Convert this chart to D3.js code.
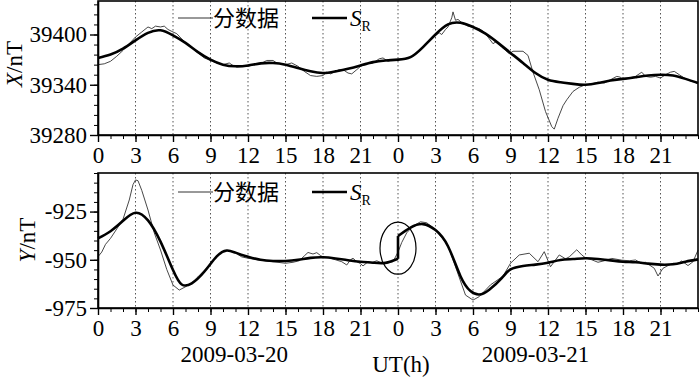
<!DOCTYPE html>
<html>
<head>
<meta charset="utf-8">
<script src="https://cdn.jsdelivr.net/npm/d3@7"></script>
<style>
  body { margin: 0; background: #fff; }
  svg { display: block; }
  svg text { font-family: "Liberation Serif", "Times New Roman", serif; }
  svg text.cjk { font-family: "Noto Sans CJK SC", sans-serif; }
</style>
</head>
<body>
<div id="chart"></div>
<script>
// hours since 2009-03-20 00:00 UT, values in nT

// X component, minute data (thin)
const xMinute = [[0,39364],[0.5,39365],[1,39368],[1.5,39374],[2,39381],[2.5,39389],[3,39397],[3.5,39403],[4,39409],[4.3,39407],[4.6,39410],[5,39409],[5.3,39410],[5.6,39406],[6,39403],[6.3,39401],[7,39390],[8,39378],[8.5,39372],[9,39369],[9.5,39366],[10,39364],[10.5,39366],[10.8,39363],[11.5,39362],[12,39362],[12.5,39364],[13,39365],[13.5,39369],[14,39369],[14.3,39366],[15,39364],[15.5,39366],[16,39362],[16.5,39356],[17,39351],[17.5,39350],[18,39351],[18.3,39355],[18.6,39353],[19,39356],[19.3,39358],[19.7,39357],[20,39354],[20.3,39353],[20.7,39358],[21,39362],[21.5,39365],[22,39366],[22.5,39371],[22.8,39372],[23.2,39368],[23.6,39370],[24,39370],[24.5,39371],[25,39373],[25.5,39378],[26,39385],[26.5,39393],[27,39399],[27.3,39402],[27.5,39400],[27.8,39406],[28,39409],[28.3,39420],[28.4,39427],[28.6,39417],[28.8,39418],[29.2,39413],[29.6,39410],[30,39409],[30.5,39407],[30.8,39404],[31.2,39397],[31.6,39389],[31.9,39392],[32.3,39385],[32.6,39381],[32.9,39377],[33.2,39380],[33.6,39380],[34,39380],[34.4,39375],[34.8,39355],[35.3,39334],[35.8,39308],[36.3,39290],[36.5,39287],[36.8,39300],[37.2,39315],[37.5,39322],[38,39332],[38.5,39337],[39,39340],[39.5,39341],[40,39343],[40.5,39342],[41,39346],[41.5,39350],[41.8,39349],[42,39346],[42.5,39348],[43,39350],[43.5,39355],[43.8,39350],[44.2,39349],[44.6,39350],[45,39348],[45.4,39352],[45.8,39355],[46.1,39356],[46.5,39352],[47,39347],[47.5,39344],[48,39342]];

// X component, S_R (thick)
const xSR = [[0,39372],[1,39376],[2,39383],[3,39393],[4,39402],[5,39405],[6,39399],[7,39390],[8,39379],[9,39370],[10,39364],[11,39362],[12,39363],[13,39365.5],[14,39366],[15,39364],[16,39360],[17,39356],[18,39354],[19,39356],[20,39359],[21,39363],[22,39367],[23,39369],[24,39370],[25,39373],[26,39385],[27,39400],[28,39412],[29,39414],[30,39409],[31,39401],[32,39390],[33,39378],[34,39366],[35,39354],[36,39346],[37,39343],[38,39341],[39,39340],[40,39342],[41,39345],[42,39347],[43,39349],[44,39351],[45,39352],[46,39351],[47,39347],[48,39342]];

// Y component, minute data (thin)
const yMinute = [[0,-948.4],[0.3,-946],[0.6,-942],[1,-938.9],[1.5,-934],[2,-929],[2.5,-919],[2.8,-911],[3,-908.6],[3.2,-909],[3.5,-914],[4,-924.2],[4.5,-936],[5,-944.9],[5.5,-955],[6,-963.1],[6.5,-965.7],[7,-964],[7.5,-962],[8,-958.8],[9,-952.3],[9.5,-948],[10,-945.5],[10.5,-945.2],[11,-946.5],[11.5,-948.5],[12,-949.2],[13,-950.2],[14,-951],[15,-951.8],[15.6,-951.3],[16.1,-950.5],[16.5,-948],[16.8,-946.2],[17.2,-947],[17.5,-946.3],[17.8,-947.8],[18,-948.5],[18.5,-949],[19,-950],[19.5,-951],[19.9,-952.7],[20.2,-950],[20.4,-949.2],[20.7,-951],[21,-952],[21.2,-953.2],[21.6,-951],[21.9,-951.5],[22.3,-950.5],[22.8,-952],[23.2,-951.5],[23.6,-951],[24,-946],[24.3,-941],[24.7,-936],[25.2,-932.5],[25.8,-930.3],[26.3,-930.8],[27,-934.6],[28,-942.5],[29,-961],[29.4,-968.3],[30,-970.9],[30.5,-969.1],[31.4,-963],[32.4,-958.5],[33,-951.8],[33.7,-947.5],[34.5,-946.6],[35.2,-951],[35.7,-945.8],[36.2,-953.6],[36.9,-947.5],[37.4,-949.5],[37.7,-948.5],[38.3,-944.8],[38.7,-947.5],[39,-949],[39.5,-950],[40,-951.3],[40.5,-950.5],[41.1,-949.3],[41.9,-950.2],[42.5,-950.5],[43,-950.1],[43.4,-951.5],[43.8,-951.3],[44.5,-954.4],[44.8,-958.4],[45.2,-954.4],[45.6,-953],[46,-951.8],[46.4,-952],[46.7,-950.6],[47.2,-953],[47.6,-951],[48,-945]];

// Y component, S_R (thick) - jumps at day boundary
const ySRDay1 = [[0,-938.9],[1,-935.2],[2,-929.8],[3,-925.6],[4,-929.6],[5,-940.6],[6,-955.3],[6.7,-962.8],[7.5,-962.2],[8.5,-956.2],[9.5,-948.2],[10.3,-945.2],[11,-946.3],[12,-948.4],[13,-950],[14,-950.6],[15,-950.6],[16,-950],[17,-949],[18,-948.7],[19,-949.3],[20,-950.2],[21,-951],[22,-951.5],[23,-951.6],[24,-949.5]];
const ySRDay2 = [[24,-937.7],[25,-933.3],[26,-931.5],[27,-934.6],[28,-943],[29,-958.5],[29.8,-966.2],[30.5,-968],[31.3,-965.5],[32.3,-959.5],[33,-955],[34,-953.2],[35,-952.5],[36,-951.5],[37,-950.1],[38,-949.6],[39,-949.2],[40,-949.6],[41,-950.3],[42,-951],[43,-951.3],[44,-952],[45,-952.5],[46,-952.3],[47,-951],[48,-949.8]];

const hourTicks = d3.range(0, 46, 3);
const dayLabels = ["2009-03-20", "2009-03-21"];

const svg = d3.select("#chart")
    .append("svg")
    .attr("width", 700)
    .attr("height", 380);

svg.append("rect").attr("width", 700).attr("height", 380).attr("fill", "#fff");

const x = d3.scaleLinear().domain([0, 48]).range([98, 698]);

function drawPanel(p) {
    const y = d3.scaleLinear().domain(p.domain).range([p.bottom, p.top]);
    const g = svg.append("g");

    // dotted hour grid
    g.append("g")
        .selectAll("line")
        .data(hourTicks.filter(d => d > 0))
        .enter().append("line")
        .attr("x1", d => x(d)).attr("x2", d => x(d))
        .attr("y1", p.top).attr("y2", p.bottom)
        .attr("stroke", "#555")
        .attr("stroke-width", 1)
        .attr("stroke-dasharray", "1.5,2.5");

    const thinLine = d3.line().x(d => x(d[0])).y(d => y(d[1]));
    const smooth = d3.line().x(d => x(d[0])).y(d => y(d[1])).curve(d3.curveNatural);

    g.append("path")
        .attr("d", thinLine(p.thin))
        .attr("fill", "none")
        .attr("stroke", "#333")
        .attr("stroke-width", 0.9);

    p.sr.forEach((seg, i) => {
        g.append("path")
            .attr("d", smooth(seg))
            .attr("fill", "none")
            .attr("stroke", "#000")
            .attr("stroke-width", 2.6);
        if (i > 0) {
            g.append("path")
                .attr("d", thinLine([p.sr[i - 1][p.sr[i - 1].length - 1], seg[0]]))
                .attr("stroke", "#000")
                .attr("stroke-width", 2.6);
        }
    });

    // frame
    g.append("rect")
        .attr("x", x(0)).attr("y", p.top)
        .attr("width", x(48) - x(0)).attr("height", p.bottom - p.top)
        .attr("fill", "none")
        .attr("stroke", "#000")
        .attr("stroke-width", 1.6);

    // x axis: minor then major
    g.append("g")
        .attr("transform", `translate(0,${p.bottom})`)
        .call(d3.axisBottom(x).tickValues(d3.range(0, 49, 1)).tickSize(4).tickFormat("").tickSizeOuter(0))
        .call(a => a.select(".domain").remove());
    const xa = g.append("g")
        .attr("transform", `translate(0,${p.bottom})`)
        .call(d3.axisBottom(x).tickValues(hourTicks).tickSize(7).tickPadding(5).tickFormat(d => String(d % 24)).tickSizeOuter(0));
    xa.select(".domain").attr("stroke-width", 1.6);
    xa.selectAll("line").attr("stroke-width", 1.4);
    xa.selectAll("text").attr("font-size", 23).attr("fill", "#000");

    // y axis
    g.append("g")
        .attr("transform", `translate(${x(0)},0)`)
        .call(d3.axisLeft(y).tickValues(d3.range(p.domain[0], p.domain[1] + 0.01, p.minor)).tickSize(4).tickFormat("").tickSizeOuter(0))
        .call(a => a.select(".domain").remove());
    const ya = g.append("g")
        .attr("transform", `translate(${x(0)},0)`)
        .call(d3.axisLeft(y).tickValues(p.majors).tickSize(8).tickPadding(3).tickFormat(d => String(d)).tickSizeOuter(0));
    ya.select(".domain").attr("stroke-width", 1.6);
    ya.selectAll("line").attr("stroke-width", 1.4);
    ya.selectAll("text").attr("font-size", 23).attr("fill", "#000");

    // axis title
    const t = g.append("text")
        .attr("transform", `translate(${p.titleX},${p.titleY}) rotate(-90)`)
        .attr("text-anchor", "middle")
        .attr("font-size", 23);
    t.append("tspan").attr("font-style", "italic").text(p.comp);
    t.append("tspan").text("/nT");

    // legend
    const lg = g.append("g").attr("transform", `translate(0,${p.legendY})`);
    lg.append("line").attr("x1", 178).attr("x2", 213).attr("stroke", "#333").attr("stroke-width", 1);
    lg.append("text").attr("class", "cjk").attr("x", 213).attr("dy", "0.36em")
        .attr("font-size", 22).text("分数据");
    lg.append("line").attr("x1", 312).attr("x2", 347).attr("stroke", "#000").attr("stroke-width", 2.6);
    const st = lg.append("text").attr("x", 350).attr("dy", "0.36em").attr("font-size", 23);
    st.append("tspan").attr("font-style", "italic").text("S");
    st.append("tspan").attr("font-size", 14).attr("dy", "0.35em").text("R");

    return y;
}

drawPanel({
    top: 1, bottom: 135, domain: [39280, 39440], majors: [39280, 39340, 39400], minor: 12,
    thin: xMinute, sr: [xSR], comp: "X", titleX: 22, titleY: 64, legendY: 18
});

const yB = drawPanel({
    top: 173, bottom: 308, domain: [-975, -905], majors: [-975, -950, -925], minor: 5,
    thin: yMinute, sr: [ySRDay1, ySRDay2], comp: "Y", titleX: 35, titleY: 240, legendY: 192
});

// circle marking the jump
svg.append("ellipse")
    .attr("cx", x(24)).attr("cy", yB(-944))
    .attr("rx", 18).attr("ry", 26)
    .attr("fill", "none").attr("stroke", "#000").attr("stroke-width", 1.2);

// date and unit labels
svg.selectAll(".day")
    .data(dayLabels)
    .enter().append("text")
    .attr("class", "day")
    .attr("x", (d, i) => x(10.9 + i * 24.1))
    .attr("y", 362)
    .attr("text-anchor", "middle")
    .attr("font-size", 23)
    .text(d => d);

svg.append("text")
    .attr("x", x(24) + 3).attr("y", 372)
    .attr("text-anchor", "middle")
    .attr("font-size", 23)
    .text("UT(h)");
</script>
</body>
</html>
